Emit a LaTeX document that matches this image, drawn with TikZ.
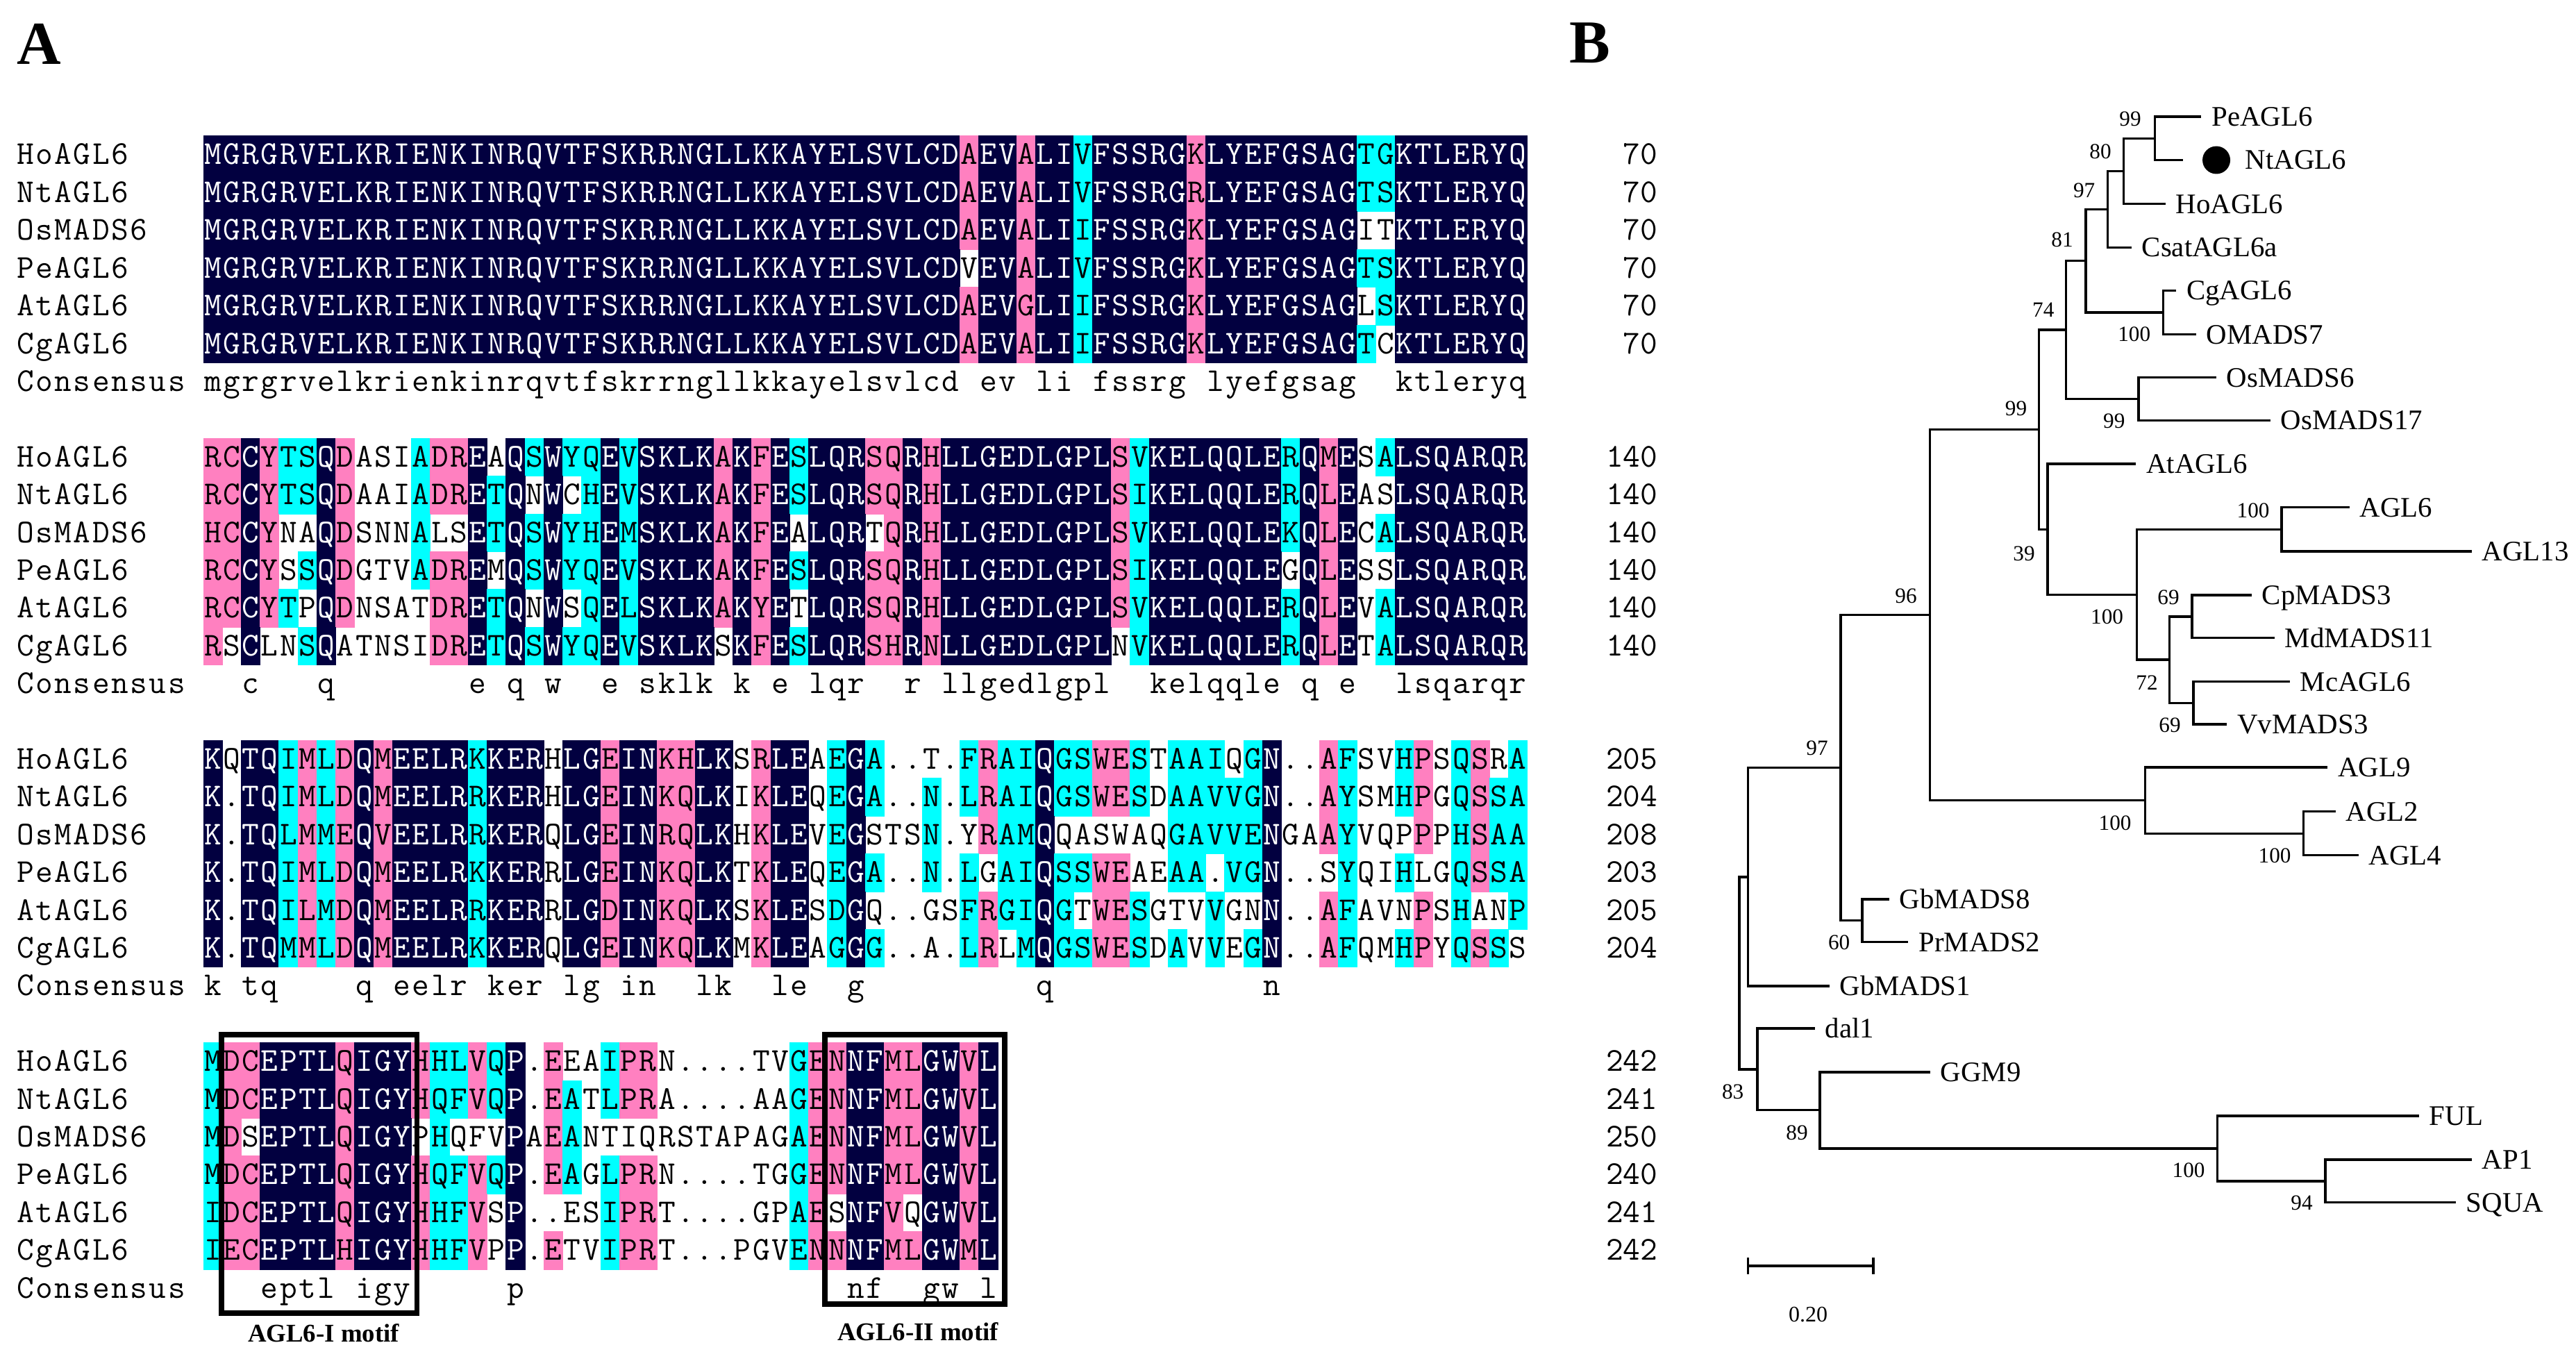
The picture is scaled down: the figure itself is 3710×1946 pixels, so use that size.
\documentclass[tikz,border=0pt]{standalone}
\usepackage{fontspec}
\newfontfamily\timesf{Liberation Serif}
\definecolor{navyc}{RGB}{2,0,64}
\definecolor{pinkc}{RGB}{255,128,192}
\definecolor{cyanc}{RGB}{0,255,255}
\colorlet{bgN}{navyc}\colorlet{bgP}{pinkc}\colorlet{bgC}{cyanc}\colorlet{bgW}{white}
\colorlet{fgN}{white}\colorlet{fgP}{black}\colorlet{fgC}{black}\colorlet{fgW}{black}
\newcommand\SqW{27.24}
\newcommand\SqH{54.4}
\tikzset{
  seqch/.style={anchor=base, inner sep=0pt, font=\ttfamily\fontsize{12}{12}\selectfont},
  seqnum/.style={anchor=base east, inner sep=0pt, font=\ttfamily\fontsize{12}{12}\selectfont},
  br/.style={line width=0.8pt, line cap=rect},
  leaf/.style={anchor=west, inner xsep=4pt, inner ysep=0pt, text height=6.75pt, text depth=0pt, font=\timesf\fontsize{10.2}{10.2}\selectfont},
  boot/.style={inner sep=0pt, font=\timesf\fontsize{7.8}{7.8}\selectfont},
  motifbox/.style={line width=1.9pt},
  motiflab/.style={anchor=base, inner sep=0pt, font=\timesf\bfseries\fontsize{9.2}{9.2}\selectfont},
  panel/.style={anchor=base west, inner sep=0pt, font=\timesf\bfseries\fontsize{22}{22}\selectfont},
}
% #1 col, #2 row, #3 char, #4 colour code
\newcommand\DrawCell[4]{%
  \ifx W#4\else
    \fill[bg#4] ({293+\SqW*(#1-1)-0.5},{196+\SqH*#2-0.5}) rectangle ({293+\SqW*#1+0.5},{196+\SqH*(#2+1)+0.5});%
  \fi
  \node[seqch, text=fg#4] (c#2-#1) at ({293+\SqW*(#1-0.5)},{196+\SqH*#2+41}) {#3};%
}
\newcommand\DrawCon[3]{%
  \if-#3\else
    \node[seqch] (k#2-#1) at ({293+\SqW*(#1-0.5)},{196+\SqH*#2+41}) {#3};%
  \fi
}
\newcommand\DrawName[3]{%
  \node[seqch] (nm#1-#2) at ({23+\SqW*(#2-0.5)},{196+\SqH*#1+41}) {#3};%
}
\ExplSyntaxOn
\NewDocumentCommand \SeqLine { m m m }
  {
    \int_step_inline:nn { \tl_count:n {#2} }
      {
        \use:x
          {
            \exp_not:N \DrawCell {##1} {#1}
              { \tl_item:nn {#2} {##1} }
              { \tl_item:nn {#3} {##1} }
          }
      }
  }
\NewDocumentCommand \ConLine { m m }
  {
    \int_step_inline:nn { \tl_count:n {#2} }
      {
        \use:x { \exp_not:N \DrawCon {##1} {#1} { \tl_item:nn {#2} {##1} } }
      }
  }
\NewDocumentCommand \NameAt { m m }
  {
    \int_step_inline:nn { \tl_count:n {#2} }
      {
        \use:x { \exp_not:N \DrawName {#1} {##1} { \tl_item:nn {#2} {##1} } }
      }
  }
\ExplSyntaxOff
\newcommand\RowMeta[3]{%
  \NameAt{#1}{#2}%
  \node[seqnum] (num#1) at (2388,{196+\SqH*#1+41}) {#3};%
}
\begin{document}
\begin{tikzpicture}[x=0.25pt,y=-0.25pt]
\useasboundingbox (0,0) rectangle (3710,1946);
\fill[white] (0,0) rectangle (3710,1946);

% ---------------- Block 1 ----------------
\SeqLine{0}{MGRGRVELKR IENKINRQVT FSKRRNGLLK KAYELSVLCD AEVALIVFSS RGKLYEFGSA GTGKTLERYQ}
           {NNNNNNNNNN NNNNNNNNNN NNNNNNNNNN NNNNNNNNNN PNNPNNCNNN NNPNNNNNNN NCCNNNNNNN}
\SeqLine{1}{MGRGRVELKR IENKINRQVT FSKRRNGLLK KAYELSVLCD AEVALIVFSS RGRLYEFGSA GTSKTLERYQ}
           {NNNNNNNNNN NNNNNNNNNN NNNNNNNNNN NNNNNNNNNN PNNPNNCNNN NNPNNNNNNN NCCNNNNNNN}
\SeqLine{2}{MGRGRVELKR IENKINRQVT FSKRRNGLLK KAYELSVLCD AEVALIIFSS RGKLYEFGSA GITKTLERYQ}
           {NNNNNNNNNN NNNNNNNNNN NNNNNNNNNN NNNNNNNNNN PNNPNNCNNN NNPNNNNNNN NWWNNNNNNN}
\SeqLine{3}{MGRGRVELKR IENKINRQVT FSKRRNGLLK KAYELSVLCD VEVALIVFSS RGKLYEFGSA GTSKTLERYQ}
           {NNNNNNNNNN NNNNNNNNNN NNNNNNNNNN NNNNNNNNNN WNNPNNCNNN NNPNNNNNNN NCCNNNNNNN}
\SeqLine{4}{MGRGRVELKR IENKINRQVT FSKRRNGLLK KAYELSVLCD AEVGLIIFSS RGKLYEFGSA GLSKTLERYQ}
           {NNNNNNNNNN NNNNNNNNNN NNNNNNNNNN NNNNNNNNNN PNNPNNCNNN NNPNNNNNNN NWCNNNNNNN}
\SeqLine{5}{MGRGRVELKR IENKINRQVT FSKRRNGLLK KAYELSVLCD AEVALIIFSS RGKLYEFGSA GTCKTLERYQ}
           {NNNNNNNNNN NNNNNNNNNN NNNNNNNNNN NNNNNNNNNN PNNPNNCNNN NNPNNNNNNN NCWNNNNNNN}
\ConLine{6}{mgrgrvelkr ienkinrqvt fskrrngllk kayelsvlcd -ev-li-fss rg-lyefgsa g--ktleryq}
\RowMeta{0}{HoAGL6}{70}
\RowMeta{1}{NtAGL6}{70}
\RowMeta{2}{OsMADS6}{70}
\RowMeta{3}{PeAGL6}{70}
\RowMeta{4}{AtAGL6}{70}
\RowMeta{5}{CgAGL6}{70}
\NameAt{6}{Consensus}

% ---------------- Block 2 ----------------
\SeqLine{8}{RCCYTSQDAS IADREAQSWY QEVSKLKAKF ESLQRSQRHL LGEDLGPLSV KELQQLERQM ESALSQARQR}
           {PPNPCCNPWW WCPPNWNCNC CNCNNNNPNP NCNNNPPNPN NNNNNNNNPC NNNNNNNCNP NWCNNNNNNN}
\SeqLine{9}{RCCYTSQDAA IADRETQNWC HEVSKLKAKF ESLQRSQRHL LGEDLGPLSI KELQQLERQL EASLSQARQR}
           {PPNPCCNPWW WCPPNCNWNW CNCNNNNPNP NCNNNPPNPN NNNNNNNNPC NNNNNNNCNP NWWNNNNNNN}
\SeqLine{10}{HCCYNAQDSN NALSETQSWY HEMSKLKAKF EALQRTQRHL LGEDLGPLSV KELQQLEKQL ECALSQARQR}
            {PPNPWWNPWW WCWWNCNCNC CNCNNNNPNP NWNNNWPNPN NNNNNNNNPC NNNNNNNCNP NWCNNNNNNN}
\SeqLine{11}{RCCYSSQDGT VADREMQSWY QEVSKLKAKF ESLQRSQRHL LGEDLGPLSI KELQQLEGQL ESSLSQARQR}
            {PPNPWCNPWW WCPPNWNCNC CNCNNNNPNP NCNNNPPNPN NNNNNNNNPC NNNNNNNWNP NWWNNNNNNN}
\SeqLine{12}{RCCYTPQDNS ATDRETQNWS QELSKLKAKY ETLQRSQRHL LGEDLGPLSV KELQQLERQL EVALSQARQR}
            {PPNPCWNPWW WWPPNCNWNW CNCNNNNPNP NWNNNPPNPN NNNNNNNNPC NNNNNNNCNP NWCNNNNNNN}
\SeqLine{13}{RSCLNSQATN SIDRETQSWY QEVSKLKSKF ESLQRSHRNL LGEDLGPLNV KELQQLERQL ETALSQARQR}
            {PWNWWCNWWW WWPPNCNCNC CNCNNNNWNP NCNNNPPNPN NNNNNNNNWC NNNNNNNCNP NWCNNNNNNN}
\ConLine{14}{--c---q--- ----e-q-w- -e-sklk-k- e-lqr--r-l lgedlgpl-- kelqqle-q- e--lsqarqr}
\RowMeta{8}{HoAGL6}{140}
\RowMeta{9}{NtAGL6}{140}
\RowMeta{10}{OsMADS6}{140}
\RowMeta{11}{PeAGL6}{140}
\RowMeta{12}{AtAGL6}{140}
\RowMeta{13}{CgAGL6}{140}
\NameAt{14}{Consensus}

% ---------------- Block 3 ----------------
\SeqLine{16}{KQTQIMLDQM EELRKKERHL GEINKHLKSR LEAEGA..T. FRAIQGSWES TAAIQGN..A FSVHPSQSRA}
            {NWNNCPCPNP NNNNCNNNWN NPNNPPNNWP NNWCNCWWWW CPCCNCCPPC WCCCWCNWWP CWWCPWCPWC}
\SeqLine{17}{K.TQIMLDQM EELRRKERHL GEINKQLKIK LEQEGA..N. LRAIQGSWES DAAVVGN..A YSMHPGQSSA}
            {NWNNCPCPNP NNNNCNNNWN NPNNPPNNWP NNWCNCWWCW CPCCNCCPPC WCCCCCNWWP CWWCPWCPCC}
\SeqLine{18}{K.TQLMMEQV EELRRKERQL GEINRQLKHK LEVEGSTSN. YRAMQQASWA QGAVVENGAA YVQPPPHSAA}
            {NWNNCPCPNP NNNNCNNNWN NPNNPPNNWP NNWCNWWWCW WPCCNWWWWW WCCCCCNWWP CWWWPWCPCC}
\SeqLine{19}{K.TQIMLDQM EELRKKERRL GEINKQLKTK LEQEGA..N. LGAIQSSWEA EAA.VGN..S YQIHLGQSSA}
            {NWNNCPCPNP NNNNCNNNWN NPNNPPNNWP NNWCNCWWCW CWCCNCCPPW WCCWCCNWWW CWWCWWCPCC}
\SeqLine{20}{K.TQILMDQM EELRRKERRL GDINKQLKSK LESDGQ..GS FRGIQGTWES GTVVGNN..A FAVNPSHANP}
            {NWNNCPCPNP NNNNCNNNWN NPNNPPNNWP NNWCNWWWWW CPCCNCWPPC WWWCWWNWWP CWWWPWCWWC}
\SeqLine{21}{K.TQMMLDQM EELRKKERQL GEINKQLKMK LEAGGG..A. LRLMQGSWES DAVVEGN..A FQMHPYQSSS}
            {NWNNCPCPNP NNNNCNNNWN NPNNPPNNWP NNWCNCWWWW CPWCNCCPPC WCWCWCNWWP CWWCPWCPCW}
\ConLine{22}{k-tq----q- eelr-ker-l g-in--lk-- le--g----- ----q----- ------n---}
\RowMeta{16}{HoAGL6}{205}
\RowMeta{17}{NtAGL6}{204}
\RowMeta{18}{OsMADS6}{208}
\RowMeta{19}{PeAGL6}{203}
\RowMeta{20}{AtAGL6}{205}
\RowMeta{21}{CgAGL6}{204}
\NameAt{22}{Consensus}

% ---------------- Block 4 ----------------
\SeqLine{24}{MDCEPTLQIG YHHLVQP.EE AIPRN....T VGENNFMLGW VL}
            {CPPNNNNPNN NPCCPCNWPW WCPPWWWWWW WCPPNNPPNN PN}
\SeqLine{25}{MDCEPTLQIG YHQFVQP.EA TLPRA....A AGENNFMLGW VL}
            {CPPNNNNPNN NPCCPCNWPC WCPPWWWWWW WCPPNNPPNN PN}
\SeqLine{26}{MDSEPTLQIG YPHQFVPAEA NTIQRSTAPA GAENNFMLGW VL}
            {CPWNNNNPNN NWCWWWNWPC WWWWWWWWWW WCPPNNPPNN PN}
\SeqLine{27}{MDCEPTLQIG YHQFVQP.EA GLPRN....T GGENNFMLGW VL}
            {CPPNNNNPNN NPCCPCNWPC WCPPWWWWWW WCPPNNPPNN PN}
\SeqLine{28}{IDCEPTLQIG YHHFVSP..E SIPRT....G PAESNFVQGW VL}
            {CPPNNNNPNN NPCCPWNWWW WCPPWWWWWW WCPWNNPWNN PN}
\SeqLine{29}{IECEPTLHIG YHHFVPP.ET VIPRT...PG VENNNFMLGW ML}
            {CPPNNNNPNN NPCCPWNWPW WCPPWWWWWW WCPPNNPPNN PN}
\ConLine{30}{---eptl-ig y-----p--- ---------- ----nf--gw -l}
\RowMeta{24}{HoAGL6}{242}
\RowMeta{25}{NtAGL6}{241}
\RowMeta{26}{OsMADS6}{250}
\RowMeta{27}{PeAGL6}{240}
\RowMeta{28}{AtAGL6}{241}
\RowMeta{29}{CgAGL6}{242}
\NameAt{30}{Consensus}

% motif boxes
\draw[motifbox] (319,1490) rectangle (600.6,1891);
\draw[motifbox] (1188,1490) rectangle (1447,1878);
\node[motiflab] (mot1) at (466,1932) {AGL6-I motif};
\node[motiflab] (mot2) at (1322,1930) {AGL6-II motif};

% panel labels
\node[panel] (labA) at (24,93) {A};
\node[panel] (labB) at (2260,91) {B};

% ---------------- Tree ----------------
\node[leaf] (Pe) at (3168.6,168) {PeAGL6};
\coordinate (ntend) at (3142.7,230.5);
\node[circle, fill=black, minimum size=10pt, inner sep=0pt] (dot) at (3192,230.5) {};
\node[leaf] (Nt) at (3217,230.5) {NtAGL6};
\node[leaf] (Ho) at (3116.9,293.8) {HoAGL6};
\node[leaf] (Csat) at (3068,356.2) {CsatAGL6a};
\node[leaf] (Cg) at (3132.5,418.3) {CgAGL6};
\node[leaf] (OM) at (3161,481.6) {OMADS7};
\node[leaf] (Os6) at (3190,543.6) {OsMADS6};
\node[leaf] (Os17) at (3268,605.3) {OsMADS17};
\node[leaf] (At) at (3074.5,668) {AtAGL6};
\node[leaf] (AGL6) at (3382,730.8) {AGL6};
\node[leaf] (AGL13) at (3558,794) {AGL13};
\node[leaf] (Cp) at (3241,857) {CpMADS3};
\node[leaf] (Md) at (3274,918.7) {MdMADS11};
\node[leaf] (Mc) at (3296,981.5) {McAGL6};
\node[leaf] (Vv) at (3205.5,1043) {VvMADS3};
\node[leaf] (AGL9) at (3350.6,1105) {AGL9};
\node[leaf] (AGL2) at (3362,1168.6) {AGL2};
\node[leaf] (AGL4) at (3395,1231.8) {AGL4};
\node[leaf] (Gb8) at (2719,1295) {GbMADS8};
\node[leaf] (Pr2) at (2746.7,1356.5) {PrMADS2};
\node[leaf] (Gb1) at (2633,1420) {GbMADS1};
\node[leaf] (dal) at (2612,1481) {dal1};
\node[leaf] (GGM) at (2778,1544) {GGM9};
\node[leaf] (FUL) at (3482,1607) {FUL};
\node[leaf] (AP1) at (3558,1670) {AP1};
\node[leaf] (SQUA) at (3535,1731.8) {SQUA};
\coordinate (nPeNt) at (3103.5,199.3);
\coordinate (n80) at (3058.8,246.5);
\coordinate (n97a) at (3035.3,301.3);
\coordinate (n81) at (3004,375.6);
\coordinate (nCgOM) at (3115.3,450);
\coordinate (n74) at (2975.7,475);
\coordinate (nOs) at (3080,574.5);
\coordinate (n99b) at (2936.5,618.7);
\coordinate (n39) at (2949,762.5);
\coordinate (nA6cl) at (3077.6,856.3);
\coordinate (nA6A13) at (3286,762.4);
\coordinate (n72) at (3124.7,950);
\coordinate (nCpMd) at (3157,887.9);
\coordinate (nMcVv) at (3159,1012.3);
\coordinate (n96) at (2779.6,885.7);
\coordinate (nA9cl) at (3089.4,1152.6);
\coordinate (nA2A4) at (3317.6,1200.2);
\coordinate (n97b) at (2651,1105.7);
\coordinate (nGbPr) at (2682,1325.7);
\coordinate (nGb1) at (2517.6,1262.9);
\coordinate (root) at (2505,1401.7);
\coordinate (n83) at (2531,1540);
\coordinate (n89) at (2621,1598.7);
\coordinate (nFUL) at (3193.7,1654);
\coordinate (nAP1) at (3349,1700.9);
\draw[br] (nPeNt) |- (Pe.west);
\draw[br] (nPeNt) |- (ntend);
\draw[br] (n80) |- (nPeNt);
\draw[br] (n80) |- (Ho.west);
\draw[br] (n97a) |- (n80);
\draw[br] (n97a) |- (Csat.west);
\draw[br] (n81) |- (n97a);
\draw[br] (n81) |- (nCgOM);
\draw[br] (nCgOM) |- (Cg.west);
\draw[br] (nCgOM) |- (OM.west);
\draw[br] (n74) |- (n81);
\draw[br] (n74) |- (nOs);
\draw[br] (nOs) |- (Os6.west);
\draw[br] (nOs) |- (Os17.west);
\draw[br] (n99b) |- (n74);
\draw[br] (n99b) |- (n39);
\draw[br] (n39) |- (At.west);
\draw[br] (n39) |- (nA6cl);
\draw[br] (nA6cl) |- (nA6A13);
\draw[br] (nA6cl) |- (n72);
\draw[br] (nA6A13) |- (AGL6.west);
\draw[br] (nA6A13) |- (AGL13.west);
\draw[br] (n72) |- (nCpMd);
\draw[br] (n72) |- (nMcVv);
\draw[br] (nCpMd) |- (Cp.west);
\draw[br] (nCpMd) |- (Md.west);
\draw[br] (nMcVv) |- (Mc.west);
\draw[br] (nMcVv) |- (Vv.west);
\draw[br] (n96) |- (n99b);
\draw[br] (n96) |- (nA9cl);
\draw[br] (nA9cl) |- (AGL9.west);
\draw[br] (nA9cl) |- (nA2A4);
\draw[br] (nA2A4) |- (AGL2.west);
\draw[br] (nA2A4) |- (AGL4.west);
\draw[br] (n97b) |- (n96);
\draw[br] (n97b) |- (nGbPr);
\draw[br] (nGbPr) |- (Gb8.west);
\draw[br] (nGbPr) |- (Pr2.west);
\draw[br] (nGb1) |- (n97b);
\draw[br] (nGb1) |- (Gb1.west);
\draw[br] (root) |- (nGb1);
\draw[br] (root) |- (n83);
\draw[br] (n83) |- (dal.west);
\draw[br] (n83) |- (n89);
\draw[br] (n89) |- (GGM.west);
\draw[br] (n89) |- (nFUL);
\draw[br] (nFUL) |- (FUL.west);
\draw[br] (nFUL) |- (nAP1);
\draw[br] (nAP1) |- (AP1.west);
\draw[br] (nAP1) |- (SQUA.west);
\node[boot] (b1) at (3068,171) {99};
\node[boot] (b2) at (3025,218.6) {80};
\node[boot] (b3) at (3001.6,274) {97};
\node[boot] (b4) at (2970,345) {81};
\node[boot] (b5) at (3073.7,481.6) {100};
\node[boot] (b6) at (2942.7,446) {74};
\node[boot] (b7) at (3044.7,606) {99};
\node[boot] (b8) at (2903.5,588) {99};
\node[boot] (b9) at (2915,797) {39};
\node[boot] (b10) at (3034.5,888) {100};
\node[boot] (b11) at (3245,735) {100};
\node[boot] (b12) at (3092,983) {72};
\node[boot] (b13) at (3123,860) {69};
\node[boot] (b14) at (3125,1044) {69};
\node[boot] (b15) at (2745,858) {96};
\node[boot] (b16) at (3046,1185.6) {100};
\node[boot] (b17) at (3276,1232) {100};
\node[boot] (b18) at (2617,1077.6) {97};
\node[boot] (b19) at (2648.6,1357.7) {60};
\node[boot] (b20) at (2495.7,1572) {83};
\node[boot] (b21) at (2588,1631.7) {89};
\node[boot] (b22) at (3152,1685) {100};
\node[boot] (b23) at (3315,1732.6) {94};
\coordinate (sbL) at (2517.6,1823);
\coordinate (sbR) at (2698,1823);
\coordinate (sbLt) at (2517.6,1813);
\coordinate (sbLb) at (2517.6,1833.5);
\coordinate (sbRt) at (2698,1813);
\coordinate (sbRb) at (2698,1833.5);
\draw[br] (sbL) -- (sbR);
\draw[br] (sbLt) -- (sbLb);
\draw[br] (sbRt) -- (sbRb);
\node[boot, font=\timesf\fontsize{8}{8}\selectfont] (sblab) at (2604,1893) {0.20};
\end{tikzpicture}
\end{document}
